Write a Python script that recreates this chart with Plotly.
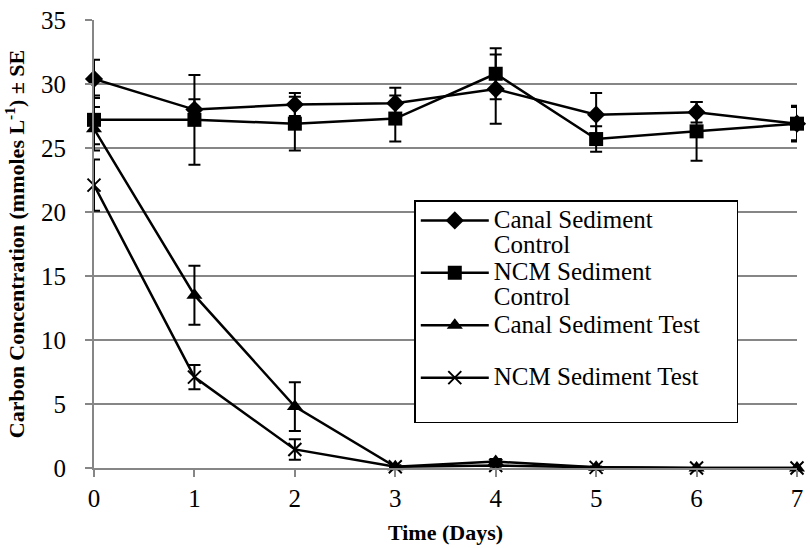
import plotly.graph_objects as go

days = [0, 1, 2, 3, 4, 5, 6, 7]

canal_ctrl = [30.4, 28.0, 28.4, 28.5, 29.6, 27.6, 27.8, 26.9]
canal_ctrl_se = [1.5, 0.8, 0.9, 1.2, 2.7, 1.7, 0.8, 1.3]
ncm_ctrl = [27.2, 27.2, 26.9, 27.3, 30.8, 25.7, 26.3, 26.9]
ncm_ctrl_se = [1.9, 3.5, 2.1, 1.8, 2.0, 1.0, 2.3, 1.4]
canal_test = [26.5, 13.5, 4.8, 0.1, 0.5, 0.05, 0.0, 0.0]
canal_test_se = [1.7, 2.3, 1.9, 0.1, 0.2, 0.05, 0.0, 0.0]
ncm_test = [22.1, 7.1, 1.45, 0.1, 0.2, 0.05, 0.0, 0.0]
ncm_test_se = [2.0, 0.95, 0.8, 0.1, 0.1, 0.05, 0.0, 0.0]

labels = [["Canal Sediment", "Control"], ["NCM Sediment", "Control"],
          ["Canal Sediment Test" + "\u00a0" * 5, " "], ["NCM Sediment Test", " "]]

FONT = "Liberation Serif"


def legend_label(lines):
    return "<br>".join('<span style="font-size:25px">%s</span>' % s for s in lines)


names = [legend_label(l) for l in labels]

series = [
    (canal_ctrl, canal_ctrl_se, names[0], dict(symbol="diamond", size=14, color="black")),
    (ncm_ctrl, ncm_ctrl_se, names[1], dict(symbol="square", size=14, color="black")),
    (canal_test, canal_test_se, names[2], dict(symbol="triangle-up", size=14, color="black")),
    (ncm_test, ncm_test_se, names[3], dict(symbol="x-thin-open", size=13, color="black",
                                           line=dict(color="black", width=2))),
]

fig = go.Figure()
for vals, se, name, marker in series:
    fig.add_trace(go.Scatter(
        x=days, y=vals, name=name, mode="lines+markers",
        line=dict(color="black", width=2.5),
        marker=marker,
        error_y=dict(type="data", array=se, visible=True, color="black",
                     thickness=2, width=6),
        cliponaxis=False,
    ))

fig.update_layout(
    width=810, height=548,
    margin=dict(l=94, r=7, t=14, b=79),
    paper_bgcolor="white", plot_bgcolor="white",
    font=dict(family=FONT, size=24, color="black"),
    showlegend=True,
    legend=dict(
        x=0.4556, y=0.598, xanchor="left", yanchor="top",
        bgcolor="white", bordercolor="black", borderwidth=1.5,
        font=dict(family=FONT, size=19, color="black"),
        valign="top", itemwidth=68,
    ),
    xaxis=dict(
        range=[0, 7], tickmode="array", tickvals=days,
        showgrid=False, zeroline=False,
        showline=True, linecolor="#868686", linewidth=2,
        ticks="outside", ticklen=7, tickcolor="#868686", tickwidth=2,
        tickfont=dict(family=FONT, size=25, color="black"),
        title=dict(text="<b>Time (Days)</b>", font=dict(family=FONT, size=22, color="black"),
                   standoff=14),
    ),
    yaxis=dict(
        range=[0, 35], tickmode="array", tickvals=[0, 5, 10, 15, 20, 25, 30, 35],
        showgrid=True, gridcolor="#868686", gridwidth=2,
        zeroline=False,
        showline=True, linecolor="#868686", linewidth=2,
        ticks="outside", ticklen=7, tickcolor="#868686", tickwidth=2,
        tickfont=dict(family=FONT, size=25, color="black"),
        ticklabelstandoff=14,
        title=dict(text="<b>Carbon Concentration (mmoles L<sup>-1</sup>) ± SE</b>",
                   font=dict(family=FONT, size=22, color="black"), standoff=10),
    ),
)

fig.write_html("out.html")
